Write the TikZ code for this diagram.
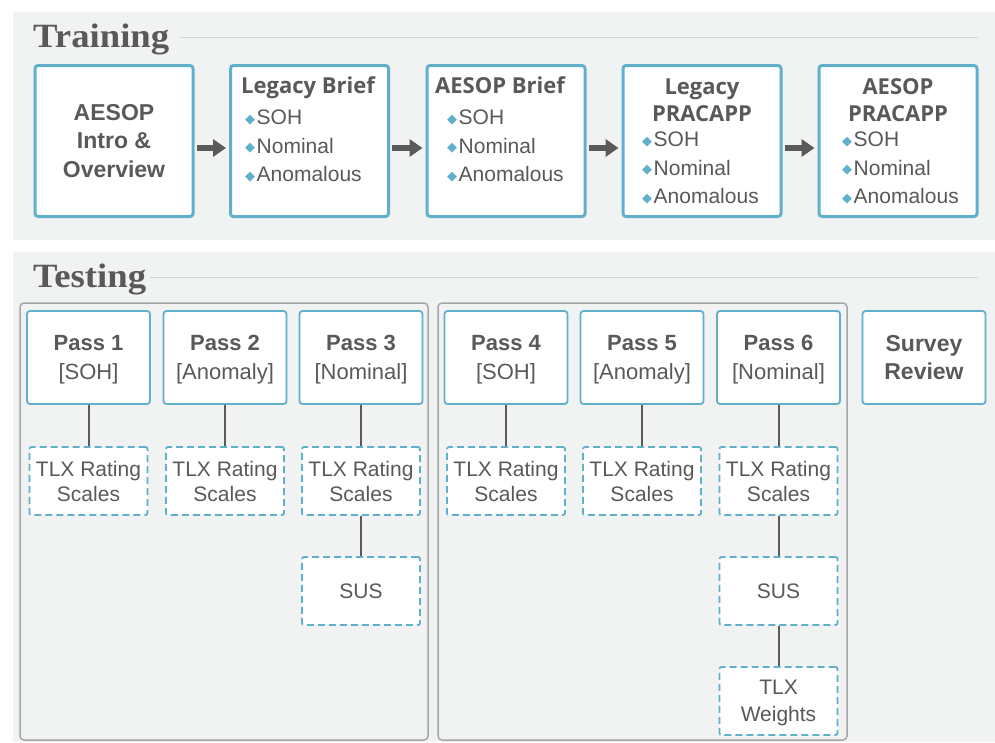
\documentclass[tikz,border=0pt]{standalone}
\usepackage{xcolor}
\usepackage{tikz}
\usepackage{fontspec}
\setmainfont{Liberation Sans}
\newfontfamily\titlefont[FakeStretch=1.08]{Liberation Serif}
\newfontfamily\headfont{Open Sans}
\newfontfamily\symfont{DejaVu Sans}
\definecolor{panelgray}{RGB}{241, 242, 242}
\definecolor{textgray}{RGB}{89, 89, 89}
\definecolor{aesopblue}{RGB}{96, 176, 204}
\definecolor{rulegray}{RGB}{210, 212, 212}
\definecolor{groupgray}{RGB}{165, 167, 167}
\definecolor{linkgray}{RGB}{90, 90, 90}
\usetikzlibrary{arrows.meta}
\newcommand{\bul}{\raisebox{1.5pt}{\symfont\color{aesopblue}\fontsize{13}{13}\selectfont ◆}\kern1.5pt}

\begin{document}
\begin{tikzpicture}[
    x=1pt, y=-1pt,
    panel/.style={fill=panelgray},
    title/.style={font=\titlefont\bfseries\fontsize{34}{34}\selectfont, text=textgray, anchor=base west, inner sep=0},
    titlerule/.style={draw=rulegray, line width=1pt},
    tbox/.style={rectangle, draw=aesopblue, fill=white, line width=3pt, rounded corners=3pt, minimum width=158pt, minimum height=151pt, align=center, text=textgray},
    head/.style={font=\headfont\bfseries\fontsize{22}{27}\selectfont, text=textgray, inner sep=0, align=center},
    items/.style={font=\fontsize{21}{28.5}\selectfont, text=textgray, inner sep=0, align=left, anchor=north west},
    flow/.style={-{Triangle[length=13pt, width=17pt]}, line width=6pt, draw=linkgray, shorten <=2pt, shorten >=3pt},
    group/.style={draw=groupgray, line width=1.5pt, rounded corners=4pt},
    pass/.style={rectangle, draw=aesopblue, fill=white, line width=1.8pt, rounded corners=3pt, minimum width=123pt, minimum height=93pt, align=center, text=textgray, text depth=0pt, font=\fontsize{22}{29}\selectfont},
    measure/.style={rectangle, draw=aesopblue, dash pattern=on 7pt off 4pt, fill=white, line width=1.8pt, rounded corners=2pt, minimum width=118pt, minimum height=68pt, align=center, text=textgray, text depth=0pt, font=\fontsize{21}{25}\selectfont},
    link/.style={draw=linkgray, line width=2pt}
]
    \useasboundingbox (0, 0) rectangle (995, 742);

    % Training
    \fill[panel] (13, 12) rectangle (995, 240);
    \node[title] (training) at (33, 47) {Training};
    \draw[titlerule] (180, 37) -- (978, 37);

    \node[tbox, font=\bfseries\fontsize{23}{28.5}\selectfont] (intro) at (114, 141) {AESOP\\Intro \&\\Overview};
    \node[tbox] (legbrief) at (309.5, 141) {};
    \node[tbox] (aesbrief) at (506, 141) {};
    \node[tbox] (legprac) at (702, 141) {};
    \node[tbox] (aesprac) at (898, 141) {};

    \node[head, anchor=base west] (legbrief-head) at (241, 93) {Legacy Brief};
    \node[items] (legbrief-list) at (245, 110) {\bul SOH\\\bul Nominal\\\bul Anomalous};
    \node[head, anchor=base west] (aesbrief-head) at (435, 93) {AESOP Brief};
    \node[items] (aesbrief-list) at (447, 110) {\bul SOH\\\bul Nominal\\\bul Anomalous};
    \node[head] (legprac-head) at (702, 100) {Legacy\\PRACAPP};
    \node[items] (legprac-list) at (642, 132) {\bul SOH\\\bul Nominal\\\bul Anomalous};
    \node[head] (aesprac-head) at (898, 100) {AESOP\\PRACAPP};
    \node[items] (aesprac-list) at (842, 132) {\bul SOH\\\bul Nominal\\\bul Anomalous};

    \draw[flow] ([yshift=-7pt]intro.east) -- ([yshift=-7pt]legbrief.west);
    \draw[flow] ([yshift=-7pt]legbrief.east) -- ([yshift=-7pt]aesbrief.west);
    \draw[flow] ([yshift=-7pt]aesbrief.east) -- ([yshift=-7pt]legprac.west);
    \draw[flow] ([yshift=-7pt]legprac.east) -- ([yshift=-7pt]aesprac.west);

    % Testing
    \fill[panel] (13, 252) rectangle (995, 742);
    \node[title] (testing) at (33, 287) {Testing};
    \draw[titlerule] (150, 277) -- (978, 277);

    \draw[group] (20, 303) rectangle (428, 740);
    \draw[group] (438, 303) rectangle (847, 740);

    \node[pass] (pass1) at (88.5, 357.5) {\textbf{Pass 1}\\{[SOH]}};
    \node[pass] (pass2) at (225, 357.5) {\textbf{Pass 2}\\{[Anomaly]}};
    \node[pass] (pass3) at (361, 357.5) {\textbf{Pass 3}\\{[Nominal]}};
    \node[pass] (pass4) at (506, 357.5) {\textbf{Pass 4}\\{[SOH]}};
    \node[pass] (pass5) at (642, 357.5) {\textbf{Pass 5}\\{[Anomaly]}};
    \node[pass] (pass6) at (778.5, 357.5) {\textbf{Pass 6}\\{[Nominal]}};
    \node[pass, font=\bfseries\fontsize{23}{28}\selectfont] (survey) at (924, 357.5) {Survey\\Review};

    \node[measure] (tlx1) at (88.5, 481) {TLX Rating\\Scales};
    \node[measure] (tlx2) at (225, 481) {TLX Rating\\Scales};
    \node[measure] (tlx3) at (361, 481) {TLX Rating\\Scales};
    \node[measure] (tlx4) at (506, 481) {TLX Rating\\Scales};
    \node[measure] (tlx5) at (642, 481) {TLX Rating\\Scales};
    \node[measure] (tlx6) at (778.5, 481) {TLX Rating\\Scales};
    \node[measure] (sus3) at (361, 591) {SUS};
    \node[measure] (sus6) at (778.5, 591) {SUS};
    \node[measure, font=\fontsize{21}{27}\selectfont] (weights6) at (778.5, 701) {TLX\\Weights};

    \draw[link] (pass1.south) -- (tlx1.north);
    \draw[link] (pass2.south) -- (tlx2.north);
    \draw[link] (pass3.south) -- (tlx3.north);
    \draw[link] (pass4.south) -- (tlx4.north);
    \draw[link] (pass5.south) -- (tlx5.north);
    \draw[link] (pass6.south) -- (tlx6.north);
    \draw[link] (tlx3.south) -- (sus3.north);
    \draw[link] (tlx6.south) -- (sus6.north);
    \draw[link] (sus6.south) -- (weights6.north);
\end{tikzpicture}
\end{document}
